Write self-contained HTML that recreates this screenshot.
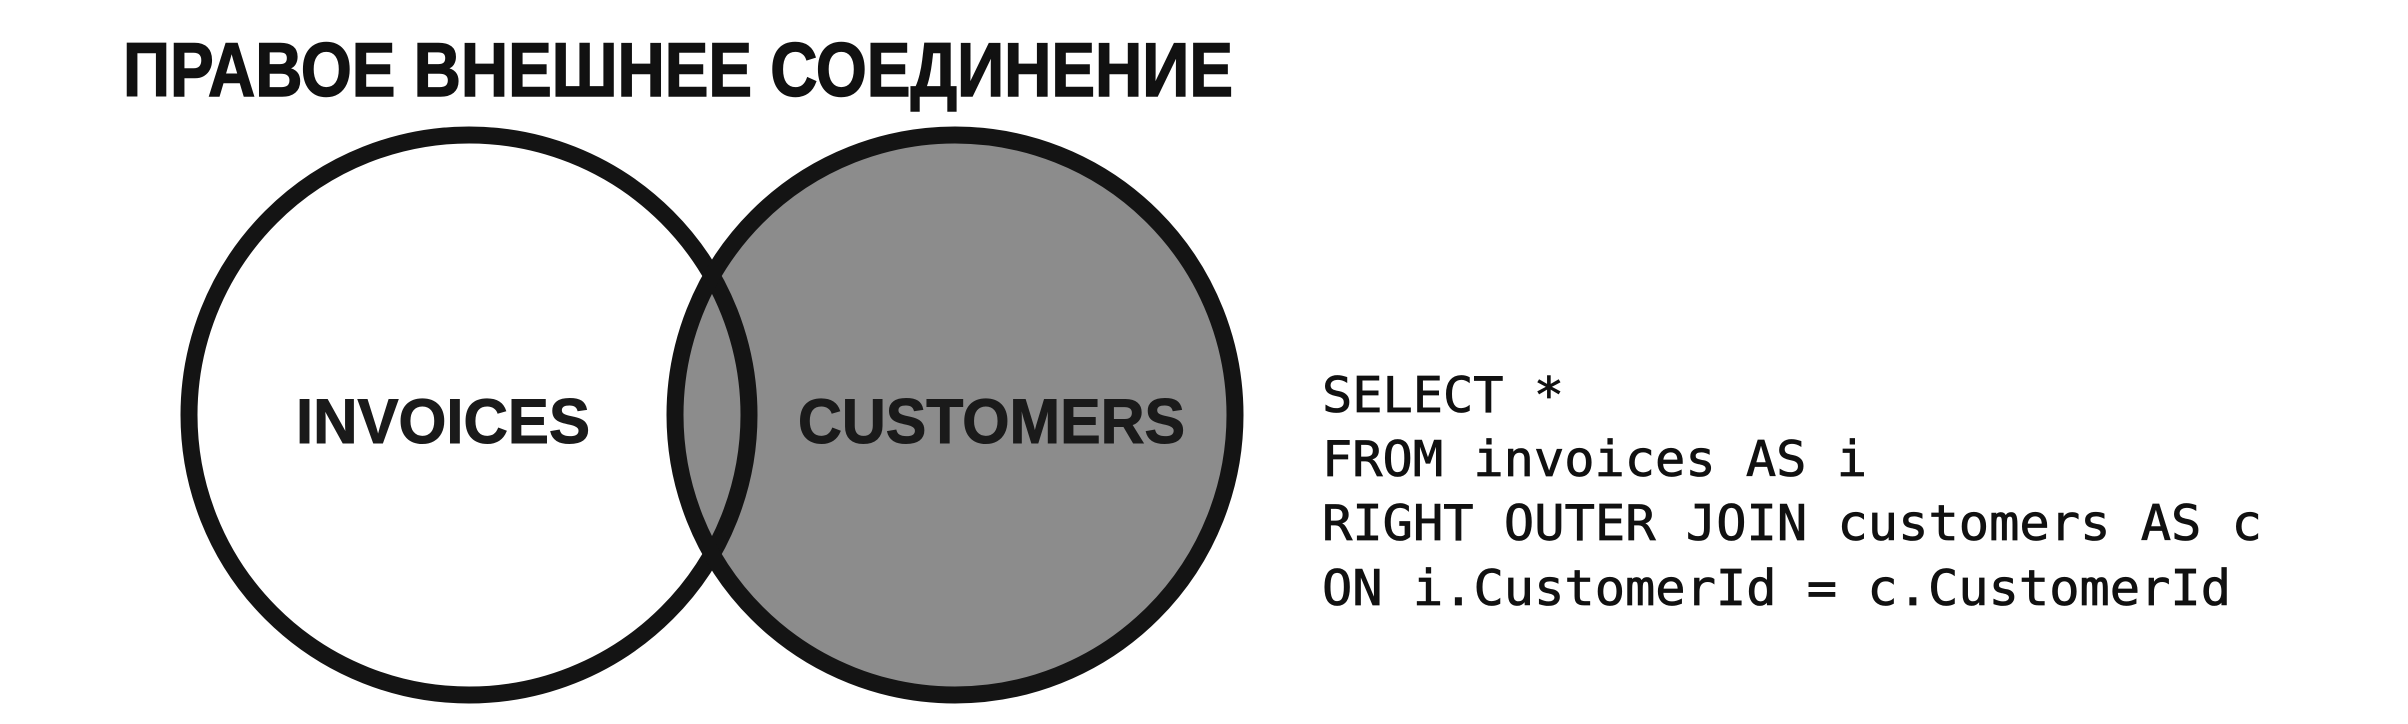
<!DOCTYPE html>
<html><head><meta charset="utf-8"><style>
html,body{margin:0;padding:0;background:#fff;}
svg{display:block;}
</style></head><body>
<svg width="2408" height="724" viewBox="0 0 2408 724" xmlns="http://www.w3.org/2000/svg">
<rect width="2408" height="724" fill="#fff"/>
<text x="123" y="96" font-family="Liberation Sans, DejaVu Sans, sans-serif" font-weight="bold" font-size="76" fill="#111" stroke="#111" stroke-width="1.5" textLength="1110" lengthAdjust="spacingAndGlyphs">ПРАВОЕ ВНЕШНЕЕ СОЕДИНЕНИЕ</text>
<circle cx="955" cy="415" r="280" fill="#8c8c8c"/>
<circle cx="469" cy="415" r="280" fill="none" stroke="#141414" stroke-width="17"/>
<circle cx="955" cy="415" r="280" fill="none" stroke="#141414" stroke-width="17"/>
<text x="296" y="443" font-family="Liberation Sans, sans-serif" font-weight="bold" font-size="63" fill="#1a1a1a" stroke="#1a1a1a" stroke-width="1" textLength="294" lengthAdjust="spacingAndGlyphs">INVOICES</text>
<text x="798" y="443" font-family="Liberation Sans, sans-serif" font-weight="bold" font-size="63" fill="#1a1a1a" stroke="#1a1a1a" stroke-width="1" textLength="387" lengthAdjust="spacingAndGlyphs">CUSTOMERS</text>
<g font-family="DejaVu Sans Mono, Liberation Mono, monospace" font-size="49" fill="#111" stroke="#111" stroke-width="0.8">
<text x="1322" y="412" textLength="242" lengthAdjust="spacingAndGlyphs">SELECT *</text>
<text x="1322" y="476" textLength="545" lengthAdjust="spacingAndGlyphs">FROM invoices AS i</text>
<text x="1322" y="540" textLength="940" lengthAdjust="spacingAndGlyphs">RIGHT OUTER JOIN customers AS c</text>
<text x="1322" y="605" textLength="909" lengthAdjust="spacingAndGlyphs">ON i.CustomerId = c.CustomerId</text>
</g>
</svg>
</body></html>
